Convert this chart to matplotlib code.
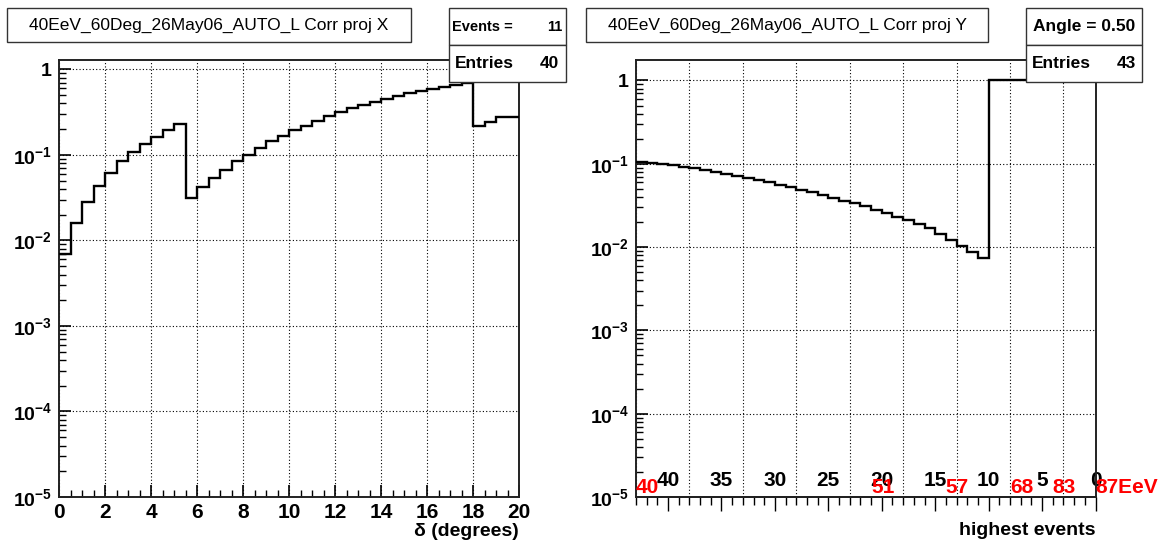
import matplotlib
matplotlib.use('Agg')
import matplotlib.pyplot as plt
import matplotlib.transforms as mtransforms
from matplotlib.patches import Rectangle
from matplotlib.ticker import MultipleLocator, LogLocator, FixedLocator, NullFormatter, FuncFormatter
import numpy as np

plt.rcParams['font.family'] = ['Liberation Sans', 'DejaVu Sans']
plt.rcParams['mathtext.fontset'] = 'custom'
plt.rcParams['mathtext.rm'] = 'Liberation Sans'
plt.rcParams['mathtext.bf'] = 'Liberation Sans:bold'

# --- proj X: correlation vs opening angle (0.5 deg bins, 0..20 deg)
x_edges = np.arange(0, 20.01, 0.5)
proj_x = [0.0070, 0.016, 0.028, 0.0436, 0.0608, 0.084, 0.108, 0.134, 0.162, 0.195, 0.229,
          0.0318, 0.042, 0.054, 0.0676, 0.0847, 0.1004, 0.122, 0.145, 0.166, 0.194,
          0.221, 0.251, 0.284, 0.317, 0.35, 0.386, 0.415, 0.45, 0.483, 0.524,
          0.558, 0.594, 0.621, 0.656, 0.698,
          0.216, 0.244, 0.275, 0.275]

# --- proj Y: correlation vs number of highest events (43 bins)
n_events = 43
y_edges = np.arange(0, n_events + 1)
proj_y = [0.106, 0.103, 0.099, 0.096, 0.092, 0.088, 0.084, 0.080, 0.076, 0.072,
          0.068, 0.064, 0.060, 0.056, 0.052, 0.049, 0.046, 0.042, 0.039, 0.036,
          0.034, 0.031, 0.028, 0.026, 0.023, 0.021, 0.019, 0.0168, 0.0145, 0.0122,
          0.0102, 0.0088, 0.0073,
          1.0, 1.0, 1.0, 1.0, 1.0, 1.0, 1.0, 1.0, 1.0, 1.0]

rank_ticks = [0, 5, 10, 15, 20, 25, 30, 35, 40]
energy_rank = [43, 21, 14, 8, 4, 0]
energy_text = ['40', '51', '57', '68', '83', '87EeV']

title_x = '40EeV_60Deg_26May06_AUTO_L Corr proj X'
title_y = '40EeV_60Deg_26May06_AUTO_L Corr proj Y'

W, H = 1160, 547
fig = plt.figure(figsize=(W / 100, H / 100), dpi=100)


def px_axes(x0, x1, y0, y1):
    return fig.add_axes([x0 / W, 1 - y1 / H, (x1 - x0) / W, (y1 - y0) / H])


def log_fmt(v, pos):
    e = int(round(np.log10(v)))
    if e == 0:
        return r'$\mathbf{1}$'
    return r'$\mathbf{10^{%d}}$' % e


def style_logy(ax, ymax):
    ax.set_yscale('log')
    ax.set_ylim(1e-5, ymax)
    ax.yaxis.set_major_locator(FixedLocator([1e-5, 1e-4, 1e-3, 1e-2, 1e-1, 1]))
    ax.yaxis.set_minor_locator(LogLocator(base=10, subs=np.arange(2, 10)))
    ax.yaxis.set_major_formatter(FuncFormatter(log_fmt))
    ax.yaxis.set_minor_formatter(NullFormatter())
    ax.tick_params(axis='y', which='major', direction='in', length=8.5, width=1.2,
                   labelsize=14, pad=5)
    ax.tick_params(axis='y', which='minor', direction='in', length=5, width=1.0)
    for s in ax.spines.values():
        s.set_linewidth(1.4)
        s.set_color('#222222')
    ax.grid(True, which='major', color='black', linestyle=(0, (1, 2)), linewidth=0.8)


def box(x0, y0, x1, y1):
    fig.add_artist(Rectangle((x0 / W, 1 - y1 / H), (x1 - x0) / W, (y1 - y0) / H,
                             transform=fig.transFigure, facecolor='white',
                             edgecolor='#333333', linewidth=1.0, zorder=5))


def ftext(x, y, s, **kw):
    fig.text(x / W, 1 - y / H, s, va='center', zorder=6, **kw)


# ---------------- left pad: proj X
ax1 = px_axes(59, 519, 60, 497)
ax1.stairs(proj_x, x_edges, baseline=None, color='black', linewidth=1.7, zorder=3)
ax1.set_xlim(0, 20)
style_logy(ax1, 1.29)
ax1.xaxis.set_major_locator(MultipleLocator(2))
ax1.xaxis.set_minor_locator(MultipleLocator(0.5))
ax1.tick_params(axis='x', which='major', direction='in', length=8.5, width=1.2,
                labelsize=15, pad=4)
ax1.tick_params(axis='x', which='minor', direction='in', length=5, width=1.0)
for lab in ax1.get_xticklabels():
    lab.set_fontweight('bold')
ax1.set_xlabel('δ (degrees)', loc='right', fontsize=14, fontweight='bold', labelpad=1)

# ---------------- right pad: proj Y
ax2 = px_axes(636, 1095.5, 60, 497)
ax2.stairs(proj_y, y_edges, baseline=None, color='black', linewidth=1.7, zorder=3)
ax2.set_xlim(0, n_events)
style_logy(ax2, 1.76)
ax2.xaxis.set_major_locator(MultipleLocator(5))
ax2.tick_params(axis='x', which='both', length=0, labelbottom=False)

# reversed "number of highest events" axis along the bottom
sec = ax2.secondary_xaxis('bottom', functions=(lambda x: n_events - x, lambda x: n_events - x))
sec.set_xticks(rank_ticks)
sec.xaxis.set_minor_locator(MultipleLocator(1))
sec.tick_params(which='major', direction='out', length=10, width=1.0, labelsize=15, pad=-29)
sec.tick_params(which='minor', direction='out', length=5.5, width=1.0)
for lab in sec.get_xticklabels():
    lab.set_fontweight('bold')
sec.spines['bottom'].set_linewidth(1.4)
sec.set_xlabel('highest events', loc='right', fontsize=14, fontweight='bold', labelpad=8)

trans = mtransforms.blended_transform_factory(ax2.transData, ax2.transAxes)
for rank, txt in zip(energy_rank, energy_text):
    ax2.text(n_events - rank, 0.0, txt, transform=trans, ha='left', va='bottom',
             color='red', fontsize=15, fontweight='bold', clip_on=False, zorder=4)

# ---------------- titles and stat boxes
box(7, 8, 411, 41.5)
ftext(209, 25, title_x, ha='center', fontsize=12.5)
box(586, 8, 988, 42)
ftext(787, 25, title_y, ha='center', fontsize=12.5)

box(449, 8, 566, 44.5)
box(449, 44.5, 566, 82)
ftext(452, 27, 'Events =', ha='left', fontsize=10.5, fontweight='bold')
ftext(562, 27, '11', ha='right', fontsize=10.5, fontweight='bold')
ftext(455, 63.5, 'Entries', ha='left', fontsize=12.5, fontweight='bold')
ftext(559, 63.5, '40', ha='right', fontsize=12.5, fontweight='bold')

box(1026, 8, 1142, 44.5)
box(1026, 44.5, 1142, 82)
ftext(1084, 26, 'Angle = 0.50', ha='center', fontsize=12.5, fontweight='bold')
ftext(1032, 63.5, 'Entries', ha='left', fontsize=12.5, fontweight='bold')
ftext(1136, 63.5, '43', ha='right', fontsize=12.5, fontweight='bold')

fig.savefig('out.png', dpi=100)
